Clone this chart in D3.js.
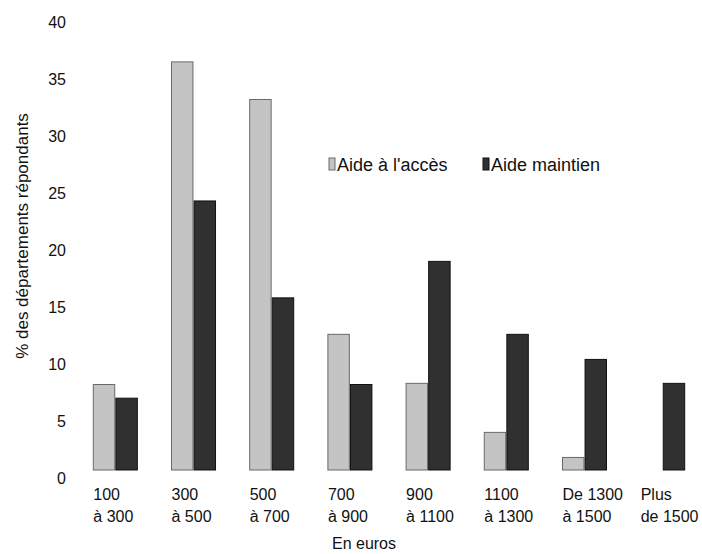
<!DOCTYPE html>
<html>
<head>
<meta charset="utf-8">
<script src="https://cdn.jsdelivr.net/npm/d3@7"></script>
<style>
  html, body { margin: 0; padding: 0; background: #fff; }
  svg { display: block; }
  text { font-family: "Liberation Sans", Arial, sans-serif; fill: #111; }
</style>
</head>
<body>
<svg id="chart" width="702" height="554"></svg>
<script>
// ---- data ----
const categories = ["100|à 300", "300|à 500", "500|à 700", "700|à 900", "900|à 1100", "1100|à 1300", "De 1300|à 1500", "Plus|de 1500"];
const seriesNames = ["Aide à l'accès", "Aide maintien"];
const aideAcces = [7.5, 35.8, 32.5, 11.9, 7.6, 3.3, 1.1, 0];
const aideMaintien = [6.3, 23.6, 15.1, 7.5, 18.3, 11.9, 9.7, 7.6];
const yTicks = [0, 5, 10, 15, 20, 25, 30, 35, 40];
const yTitle = "% des départements répondants";
const xTitle = "En euros";

const colors = ["#c4c4c4", "#303030"];
const strokes = ["#6a6a6a", "#111111"];

const svg = d3.select("#chart");

const x = d3.scaleBand().domain(categories).range([76.1, 701.9]).paddingInner(0.437).paddingOuter(0.22);
const xs = d3.scaleBand().domain(seriesNames).range([0, x.bandwidth()]).paddingInner(0.05);
const y = d3.scaleLinear().domain([0, 40]).range([470, 14]);

const rows = categories.map((c, i) => ({ cat: c, vals: [aideAcces[i], aideMaintien[i]] }));

// bars
const g = svg.append("g");
rows.forEach(r => {
  r.vals.forEach((v, j) => {
    if (v <= 0) return;
    g.append("rect")
      .attr("x", x(r.cat) + xs(seriesNames[j]))
      .attr("y", y(v))
      .attr("width", xs.bandwidth())
      .attr("height", y(0) - y(v))
      .attr("fill", colors[j])
      .attr("stroke", strokes[j])
      .attr("stroke-width", 1);
  });
});

// y axis
const yAxis = svg.append("g")
  .attr("transform", "translate(70,0)")
  .call(d3.axisLeft(y).tickValues(yTicks).tickSize(0).tickPadding(4));
yAxis.select(".domain").remove();
yAxis.selectAll("text")
  .attr("font-size", 16)
  .attr("font-family", "Liberation Sans, Arial, sans-serif")
  .attr("fill", "#111")
  .attr("dy", "0.32em")
  .attr("transform", "translate(0,8)");

// x axis
const xAxis = svg.append("g")
  .attr("transform", "translate(0,470)")
  .call(d3.axisBottom(x).tickSize(0));
xAxis.select(".domain").remove();
xAxis.selectAll(".tick text").each(function(d) {
  const t = d3.select(this);
  const parts = d.split("|");
  t.text(null)
    .attr("text-anchor", "start")
    .attr("font-size", 16)
    .attr("font-family", "Liberation Sans, Arial, sans-serif")
    .attr("fill", "#111")
    .attr("y", 0)
    .attr("dy", null);
  t.append("tspan").attr("x", -x.bandwidth() / 2).attr("y", 30).text(parts[0]);
  t.append("tspan").attr("x", -x.bandwidth() / 2).attr("y", 52).text(parts[1]);
});

// titles
svg.append("text")
  .attr("transform", "translate(28,236) rotate(-90)")
  .attr("text-anchor", "middle")
  .attr("font-size", 17)
  .text(yTitle);

svg.append("text")
  .attr("x", 364)
  .attr("y", 549)
  .attr("text-anchor", "middle")
  .attr("font-size", 16)
  .text(xTitle);

// legend
const legendPos = [{ sx: 329, tx: 337 }, { sx: 483, tx: 491 }];
seriesNames.forEach((name, j) => {
  svg.append("rect")
    .attr("x", legendPos[j].sx).attr("y", 158)
    .attr("width", 6).attr("height", 12)
    .attr("fill", colors[j]).attr("stroke", strokes[j]).attr("stroke-width", 1);
  svg.append("text")
    .attr("x", legendPos[j].tx).attr("y", 171)
    .attr("font-size", 18)
    .text(name);
});
</script>
</body>
</html>
